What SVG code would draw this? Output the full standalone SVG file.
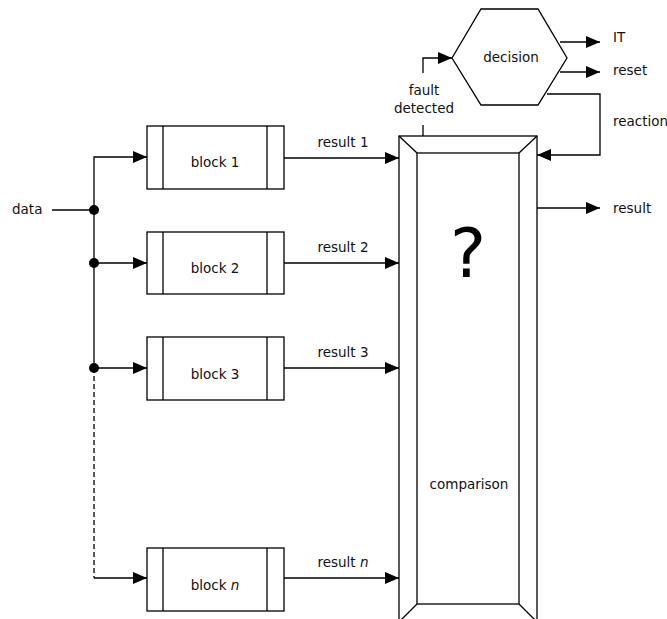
<svg xmlns="http://www.w3.org/2000/svg" width="667" height="619" viewBox="0 0 667 619">
<defs>
<marker id="ah" viewBox="0 0 14 12" refX="14" refY="6" markerWidth="14" markerHeight="12" markerUnits="userSpaceOnUse" orient="auto"><path d="M0,0 L14,6 L0,12 Z" fill="#000"/></marker>
<style>
.ln{fill:none;stroke:#000;stroke-width:1.3}
.bx{fill:#fff;stroke:#000;stroke-width:1.3}
.t{font-family:"DejaVu Sans",Verdana,sans-serif;font-size:13.5px;fill:#111}
.c{text-anchor:middle}
</style>
</defs>
<rect width="667" height="619" fill="#fff"/>
<g id="connectors">
<line class="ln" x1="52" y1="210" x2="94" y2="210"/>
<polyline class="ln" points="94,368 94,157 147,157" marker-end="url(#ah)"/>
<line class="ln" x1="94" y1="263" x2="147" y2="263" marker-end="url(#ah)"/>
<line class="ln" x1="94" y1="368" x2="147" y2="368" marker-end="url(#ah)"/>
<polyline class="ln" points="94,368 94,578" stroke-dasharray="5,3"/>
<line class="ln" x1="94" y1="578" x2="147" y2="578" marker-end="url(#ah)"/>
<circle cx="94" cy="210" r="5" fill="#000"/>
<circle cx="94" cy="263" r="5" fill="#000"/>
<circle cx="94" cy="368" r="5" fill="#000"/>
<line class="ln" x1="284" y1="158" x2="399" y2="158" marker-end="url(#ah)"/>
<line class="ln" x1="284" y1="263" x2="399" y2="263" marker-end="url(#ah)"/>
<line class="ln" x1="284" y1="368" x2="399" y2="368" marker-end="url(#ah)"/>
<line class="ln" x1="284" y1="578" x2="399" y2="578" marker-end="url(#ah)"/>
<text class="t c" x="343" y="147">result 1</text>
<text class="t c" x="343" y="252">result 2</text>
<text class="t c" x="343" y="357">result 3</text>
<text class="t c" x="343" y="567">result <tspan font-style="italic">n</tspan></text>
<line class="ln" x1="537" y1="208" x2="600" y2="208" marker-end="url(#ah)"/>
<text class="t" x="613" y="213">result</text>
<line class="ln" x1="423" y1="136" x2="423" y2="125"/>
<polyline class="ln" points="423,73 423,58 452,58" marker-end="url(#ah)"/>
<text class="t c" x="424" y="95">fault</text>
<text class="t c" x="424" y="113">detected</text>
<line class="ln" x1="560" y1="42" x2="600" y2="42" marker-end="url(#ah)"/>
<text class="t" x="613" y="42">IT</text>
<line class="ln" x1="560" y1="72" x2="600" y2="72" marker-end="url(#ah)"/>
<text class="t" x="613" y="75">reset</text>
<polyline class="ln" points="547,94 600,94 600,155 537,155" marker-end="url(#ah)"/>
<text class="t" x="613" y="126">reaction</text>
<text class="t" x="12" y="214">data</text>
</g>
<g id="block1">
<rect class="bx" x="147" y="126" width="137" height="63"/>
<line class="ln" x1="163" y1="126" x2="163" y2="189"/>
<line class="ln" x1="267" y1="126" x2="267" y2="189"/>
<text class="t c" x="215" y="167">block 1</text>
</g>
<g id="block2">
<rect class="bx" x="147" y="232" width="137" height="62"/>
<line class="ln" x1="163" y1="232" x2="163" y2="294"/>
<line class="ln" x1="267" y1="232" x2="267" y2="294"/>
<text class="t c" x="215" y="273">block 2</text>
</g>
<g id="block3">
<rect class="bx" x="147" y="337" width="137" height="63"/>
<line class="ln" x1="163" y1="337" x2="163" y2="400"/>
<line class="ln" x1="267" y1="337" x2="267" y2="400"/>
<text class="t c" x="215" y="379">block 3</text>
</g>
<g id="blockn">
<rect class="bx" x="147" y="548" width="137" height="63"/>
<line class="ln" x1="163" y1="548" x2="163" y2="611"/>
<line class="ln" x1="267" y1="548" x2="267" y2="611"/>
<text class="t c" x="215" y="590">block <tspan font-style="italic">n</tspan></text>
</g>
<g id="comparison">
<rect class="bx" x="399" y="136" width="138" height="486"/>
<rect class="bx" x="417" y="153" width="102" height="451"/>
<line class="ln" x1="399" y1="136" x2="417" y2="153"/>
<line class="ln" x1="537" y1="136" x2="519" y2="153"/>
<line class="ln" x1="399" y1="622" x2="417" y2="604"/>
<line class="ln" x1="537" y1="622" x2="519" y2="604"/>
<text x="468" y="277" text-anchor="middle" style="font-family:'DejaVu Sans',sans-serif;font-size:68px;fill:#000">?</text>
<text class="t c" x="469" y="489">comparison</text>
</g>
<g id="decision">
<polygon class="bx" points="452,58 481,9 538,9 567,58 538,105 481,105"/>
<text class="t c" x="511" y="62">decision</text>
</g>
</svg>
